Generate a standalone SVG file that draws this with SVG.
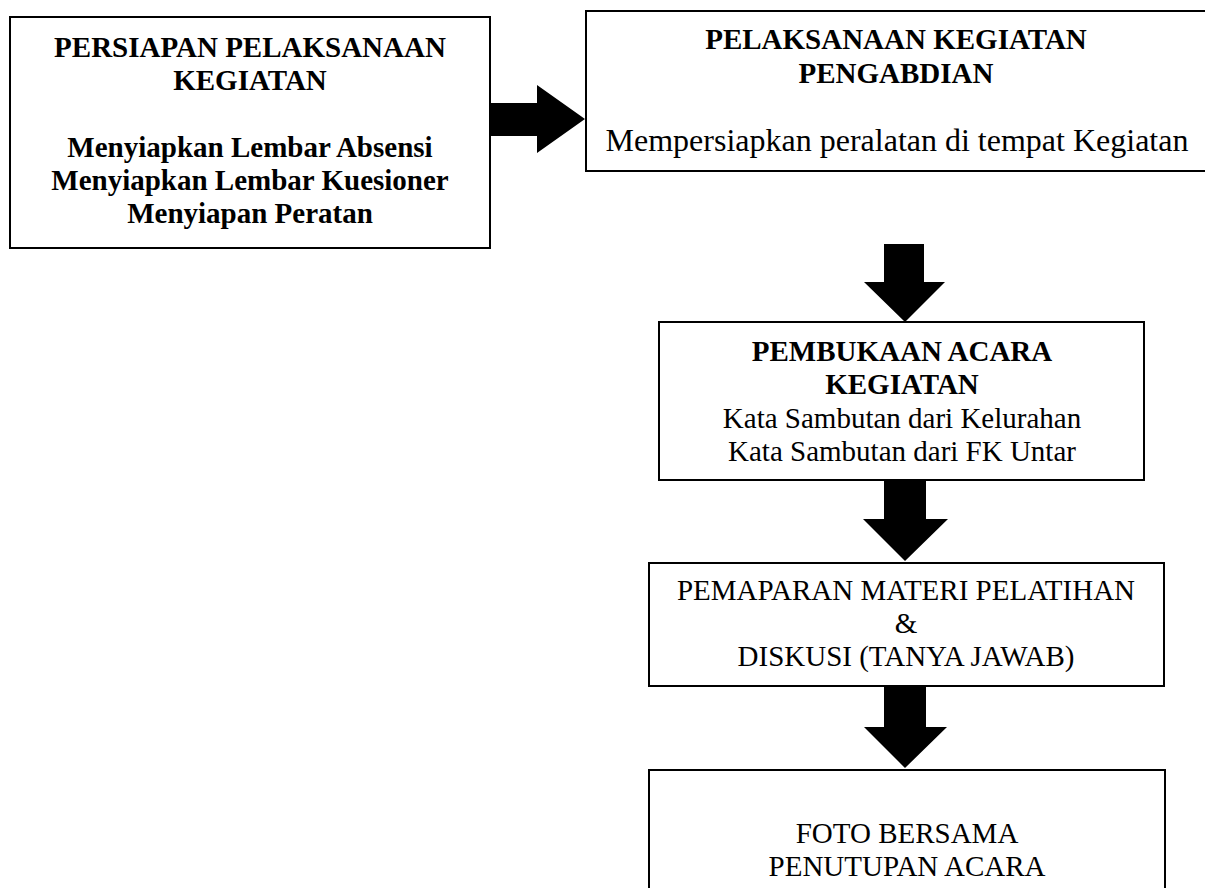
<svg xmlns="http://www.w3.org/2000/svg" width="1205" height="888" viewBox="0 0 1205 888">
<style>
.box{fill:#fff;stroke:#000;stroke-width:2}
.t{font-family:"Liberation Serif","Times New Roman",serif;font-size:29px;fill:#000;text-anchor:middle}
.b{font-weight:bold}
.big{font-size:32px}
.arr{fill:#000;stroke:none}
</style>
<rect width="1205" height="888" fill="#fff"/>
<g id="connectors">
<polygon class="arr" points="490,103 537,103 537,85 585,119 537,153 537,136 490,136"/>
<polygon class="arr" points="884,244 924,244 924,282 945,282 905,322 864,282 884,282"/>
<polygon class="arr" points="884,480 926,480 926,519 948,519 905,561 863,519 884,519"/>
<polygon class="arr" points="884,686 926,686 926,727 947,727 905,768 864,727 884,727"/>
</g>
<g id="node-persiapan">
<rect class="box" x="10" y="17" width="480" height="231"/>
<text class="t b" x="250" y="57">PERSIAPAN PELAKSANAAN</text>
<text class="t b" x="250" y="90">KEGIATAN</text>
<text class="t b" x="250" y="157">Menyiapkan Lembar Absensi</text>
<text class="t b" x="250" y="190">Menyiapkan Lembar Kuesioner</text>
<text class="t b" x="250" y="223">Menyiapan Peratan</text>
</g>
<g id="node-pelaksanaan">
<rect class="box" x="586" y="11" width="622" height="160"/>
<text class="t b" x="896" y="49">PELAKSANAAN KEGIATAN</text>
<text class="t b" x="896" y="83">PENGABDIAN</text>
<text class="t big" x="897" y="151">Mempersiapkan peralatan di tempat Kegiatan</text>
</g>
<g id="node-pembukaan">
<rect class="box" x="659" y="322" width="485" height="158"/>
<text class="t b" x="902" y="361">PEMBUKAAN ACARA</text>
<text class="t b" x="902" y="394">KEGIATAN</text>
<text class="t" x="902" y="428">Kata Sambutan dari Kelurahan</text>
<text class="t" x="902" y="461">Kata Sambutan dari FK Untar</text>
</g>
<g id="node-pemaparan">
<rect class="box" x="649" y="563" width="515" height="123"/>
<text class="t" x="906" y="600">PEMAPARAN MATERI PELATIHAN</text>
<text class="t" x="906" y="633">&amp;</text>
<text class="t" x="906" y="666">DISKUSI (TANYA JAWAB)</text>
</g>
<g id="node-penutupan">
<rect class="box" x="649" y="770" width="516" height="130"/>
<text class="t" x="907" y="843">FOTO BERSAMA</text>
<text class="t" x="907" y="876">PENUTUPAN ACARA</text>
</g>
</svg>
